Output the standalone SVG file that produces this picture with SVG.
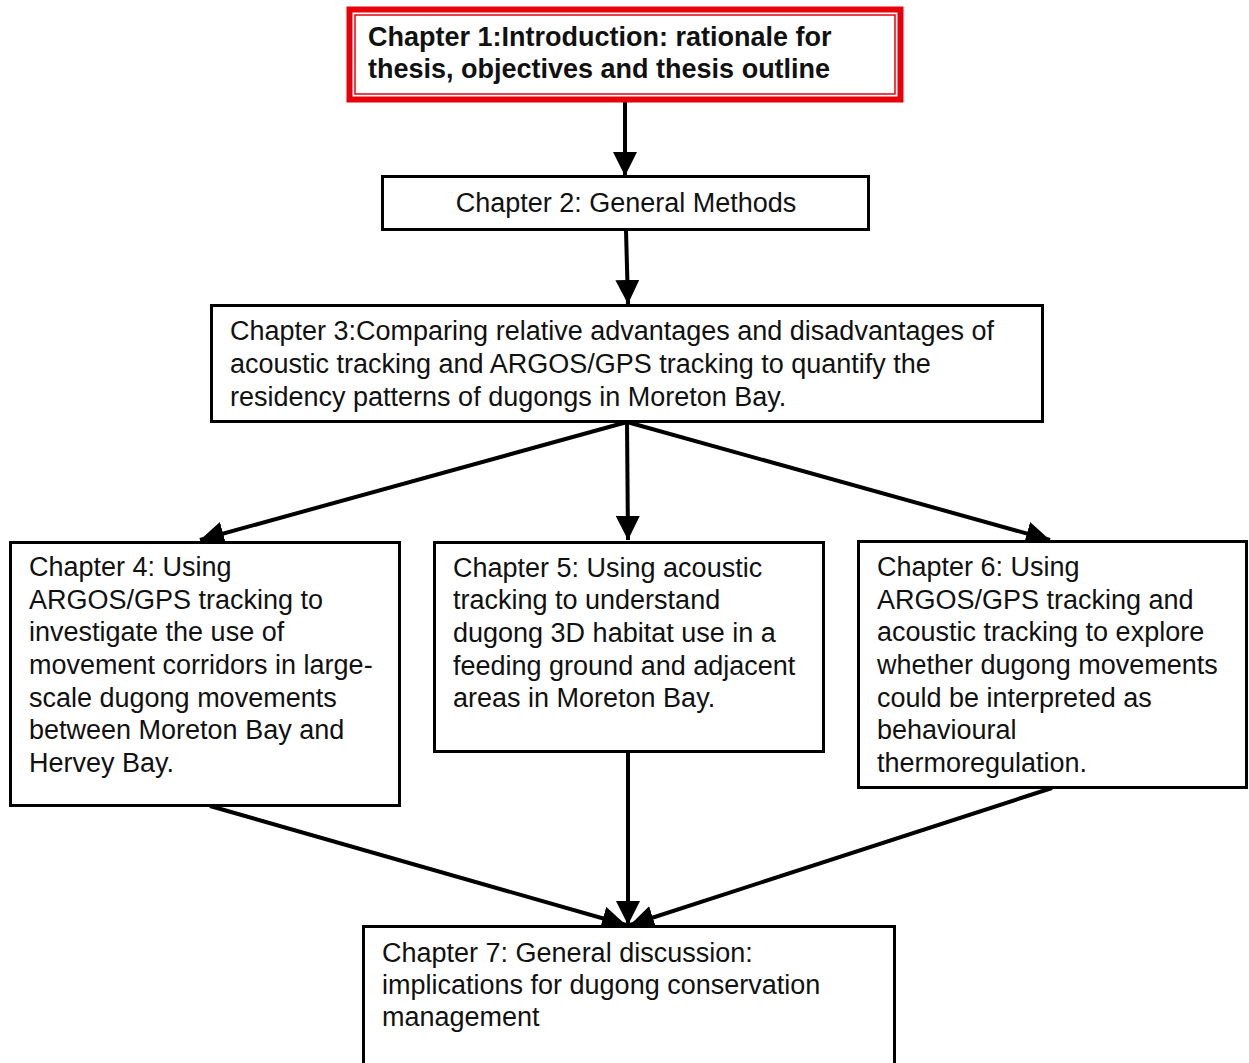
<svg xmlns="http://www.w3.org/2000/svg" width="1249" height="1063" viewBox="0 0 1249 1063">
<style>
.box{fill:#fff;stroke:#000;stroke-width:3}
.t{font-family:"Liberation Sans",Arial,sans-serif;font-size:27px;fill:#111}
.b{font-weight:bold}
.c{fill:none;stroke:#000;stroke-width:4}
</style>
<defs>
<marker id="ah" viewBox="0 0 10 10" refX="10" refY="5" markerWidth="6" markerHeight="6" markerUnits="strokeWidth" orient="auto">
<path d="M0,0 L10,5 L0,10 z" fill="#000"/>
</marker>
</defs>
<rect width="1249" height="1063" fill="#fff"/>
<g id="connectors">
<line class="c" x1="625" y1="102" x2="625" y2="176" marker-end="url(#ah)"/>
<line class="c" x1="626" y1="230" x2="628" y2="304" marker-end="url(#ah)"/>
<line class="c" x1="627" y1="422" x2="200" y2="540" marker-end="url(#ah)"/>
<line class="c" x1="627" y1="422" x2="628" y2="540" marker-end="url(#ah)"/>
<line class="c" x1="627" y1="422" x2="1050" y2="540" marker-end="url(#ah)"/>
<line class="c" x1="210" y1="806" x2="626" y2="925" marker-end="url(#ah)"/>
<line class="c" x1="628" y1="752" x2="628" y2="925" marker-end="url(#ah)"/>
<line class="c" x1="1052" y1="788" x2="630" y2="925" marker-end="url(#ah)"/>
</g>
<g id="ch1">
<rect x="349.5" y="9.5" width="551" height="90" fill="#fff" stroke="#e8000b" stroke-width="6"/>
<rect x="355" y="15" width="540" height="79" fill="none" stroke="#e8000b" stroke-width="1.5"/>
<text class="t b" x="368" y="46">Chapter 1:Introduction: rationale for</text>
<text class="t b" x="368" y="78">thesis, objectives and thesis outline</text>
</g>
<g id="ch2">
<rect class="box" x="382.5" y="176.5" width="486" height="53"/>
<text class="t" x="626" y="212" text-anchor="middle">Chapter 2: General Methods</text>
</g>
<g id="ch3">
<rect class="box" x="211.5" y="305.5" width="831" height="116"/>
<text class="t" x="230" y="340">Chapter 3:Comparing relative advantages and disadvantages of</text>
<text class="t" x="230" y="373">acoustic tracking and ARGOS/GPS tracking to quantify the</text>
<text class="t" x="230" y="406">residency patterns of dugongs in Moreton Bay.</text>
</g>
<g id="ch4">
<rect class="box" x="10.5" y="542.5" width="389" height="263"/>
<text class="t" x="29" y="576">Chapter 4: Using</text>
<text class="t" x="29" y="609">ARGOS/GPS tracking to</text>
<text class="t" x="29" y="641">investigate the use of</text>
<text class="t" x="29" y="674">movement corridors in large-</text>
<text class="t" x="29" y="707">scale dugong movements</text>
<text class="t" x="29" y="739">between Moreton Bay and</text>
<text class="t" x="29" y="772">Hervey Bay.</text>
</g>
<g id="ch5">
<rect class="box" x="434.5" y="542.5" width="389" height="209"/>
<text class="t" x="453" y="577">Chapter 5: Using acoustic</text>
<text class="t" x="453" y="609">tracking to understand</text>
<text class="t" x="453" y="642">dugong 3D habitat use in a</text>
<text class="t" x="453" y="675">feeding ground and adjacent</text>
<text class="t" x="453" y="707">areas in Moreton Bay.</text>
</g>
<g id="ch6">
<rect class="box" x="858.5" y="541.5" width="388" height="246"/>
<text class="t" x="877" y="576">Chapter 6: Using</text>
<text class="t" x="877" y="609">ARGOS/GPS tracking and</text>
<text class="t" x="877" y="641">acoustic tracking to explore</text>
<text class="t" x="877" y="674">whether dugong movements</text>
<text class="t" x="877" y="707">could be interpreted as</text>
<text class="t" x="877" y="739">behavioural</text>
<text class="t" x="877" y="772">thermoregulation.</text>
</g>
<g id="ch7">
<rect class="box" x="363.5" y="926.5" width="531" height="150"/>
<text class="t" x="382" y="962">Chapter 7: General discussion:</text>
<text class="t" x="382" y="994">implications for dugong conservation</text>
<text class="t" x="382" y="1026">management</text>
</g>
</svg>
